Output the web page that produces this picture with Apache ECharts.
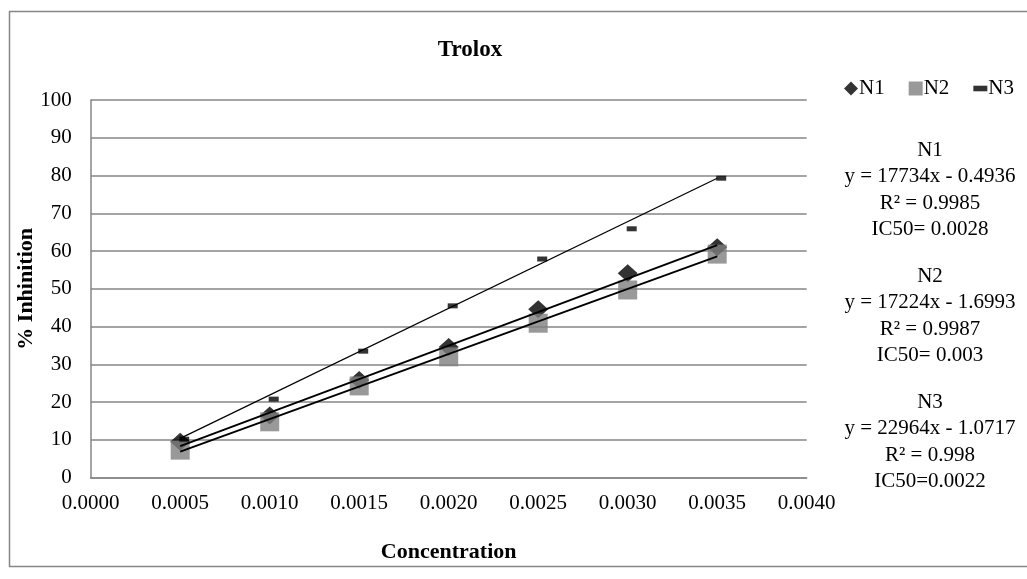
<!DOCTYPE html>
<html>
<head>
<meta charset="utf-8">
<script src="https://cdn.jsdelivr.net/npm/echarts@6/dist/echarts.min.js"></script>
<style>html,body{margin:0;padding:0;background:#fff;}#chart{width:1027px;height:579px;}</style>
</head>
<body>
<div id="chart"></div>
<script>
var concentrations = [0.0005, 0.0010, 0.0015, 0.0020, 0.0025, 0.0030, 0.0035];
var n1Values = [9.5, 16.5, 25.9, 34.6, 44.6, 54.1, 61.0];
var n2Values = [7.3, 14.8, 24.3, 32.0, 40.9, 49.7, 59.2];
var n3Values = [10.2, 20.8, 33.5, 45.5, 57.9, 65.9, 79.3];
var seriesNames = ['N1', 'N2', 'N3'];
var slopes = [17734, 17224, 22964];
var intercepts = [-0.4936, -1.6993, -1.0717];
var annotationLines = [
  ['N1', 'y = 17734x - 0.4936', 'R² = 0.9985', 'IC50= 0.0028'],
  ['N2', 'y = 17224x - 1.6993', 'R² = 0.9987', 'IC50= 0.003'],
  ['N3', 'y = 22964x - 1.0717', 'R² = 0.998', 'IC50=0.0022']
];
var xTicks = ['0.0000','0.0005','0.0010','0.0015','0.0020','0.0025','0.0030','0.0035','0.0040'];

var FONT = "'Liberation Serif', 'Times New Roman', serif";
function pairs(xs, ys) { return xs.map(function (x, i) { return [x, ys[i]]; }); }
function trend(k) {
  var x0 = concentrations[0], x1 = concentrations[concentrations.length - 1];
  return [[x0, slopes[k] * x0 + intercepts[k]], [x1, slopes[k] * x1 + intercepts[k]]];
}

var chart = echarts.init(document.getElementById('chart'), null, {renderer: 'canvas'});
var graphics = [{
  type: 'rect', shape: {x: 9.5, y: 11.5, width: 1030, height: 555},
  style: {fill: 'none', stroke: '#868686', lineWidth: 1.5}, silent: true, z: -1
}];
var blockTops = [150, 276, 402];
annotationLines.forEach(function (block, b) {
  block.forEach(function (t, i) {
    graphics.push({
      type: 'text', x: 930, y: blockTops[b] + i * 26.5,
      style: {text: t, font: '21px ' + FONT, fill: '#000', textAlign: 'center', textVerticalAlign: 'middle'}
    });
  });
});

var legendIcons = ['diamond', 'rect', 'path://M0,0h10v4h-10z'];

chart.setOption({
  animation: false,
  backgroundColor: '#fff',
  title: {
    text: 'Trolox', left: 465, top: 34, textAlign: 'center',
    textStyle: {fontFamily: FONT, fontSize: 23, fontWeight: 'bold', color: '#000'}
  },
  legend: {
    data: seriesNames.map(function (n, i) { return {name: n, icon: legendIcons[i]}; }),
    right: 8, top: 73, itemGap: 24, itemWidth: 14, itemHeight: 14,
    textStyle: {fontFamily: FONT, fontSize: 21, color: '#000', padding: [0, 0, 0, -4]}
  },
  grid: {left: 90.7, right: 220.3, top: 100, bottom: 101.3, containLabel: false},
  xAxis: {
    type: 'value', min: 0, max: 0.004, interval: 0.0005,
    name: 'Concentration', nameLocation: 'middle', nameGap: 64, nameMoveOverlap: false,
    nameTextStyle: {fontFamily: FONT, fontSize: 22, fontWeight: 'bold', color: '#000'},
    axisLine: {show: true, lineStyle: {color: '#868686', width: 1.5}},
    axisTick: {show: false},
    splitLine: {show: false},
    axisLabel: {
      margin: 15, fontFamily: FONT, fontSize: 21, color: '#000',
      formatter: function (v) { var i = Math.round(v / 0.0005); return xTicks[i] !== undefined ? xTicks[i] : v.toFixed(4); }
    }
  },
  yAxis: {
    type: 'value', min: 0, max: 100, interval: 10,
    name: '% Inhinition', nameLocation: 'middle', nameGap: 53, nameMoveOverlap: false,
    nameTextStyle: {fontFamily: FONT, fontSize: 22, fontWeight: 'bold', color: '#000'},
    axisLine: {show: true, lineStyle: {color: '#868686', width: 1.5}},
    axisTick: {show: false},
    splitLine: {show: true, lineStyle: {color: '#868686', width: 1.5}},
    axisLabel: {margin: 19, fontFamily: FONT, fontSize: 21, color: '#000'}
  },
  graphic: graphics,
  series: [
    {name: 'N1', type: 'scatter', data: pairs(concentrations, n1Values), symbol: 'diamond', symbolSize: [20, 18],
     itemStyle: {color: '#000'}, z: 2},
    {name: 'N2', type: 'scatter', data: pairs(concentrations, n2Values), symbol: 'rect', symbolSize: 19,
     itemStyle: {color: '#808080'}, z: 3},
    {name: 'N3', type: 'scatter', data: pairs(concentrations, n3Values), symbol: 'rect', symbolSize: [10, 5],
     symbolOffset: [4, 0], itemStyle: {color: '#000'}, z: 4},
    {name: 'N1 trend', type: 'line', data: trend(0), showSymbol: false, symbol: 'none',
     lineStyle: {color: '#000', width: 2}, z: 5, silent: true},
    {name: 'N2 trend', type: 'line', data: trend(1), showSymbol: false, symbol: 'none',
     lineStyle: {color: '#000', width: 2}, z: 5, silent: true},
    {name: 'N3 trend', type: 'line', data: trend(2), showSymbol: false, symbol: 'none',
     lineStyle: {color: '#000', width: 1.2}, z: 5, silent: true}
  ]
});
</script>
</body>
</html>
